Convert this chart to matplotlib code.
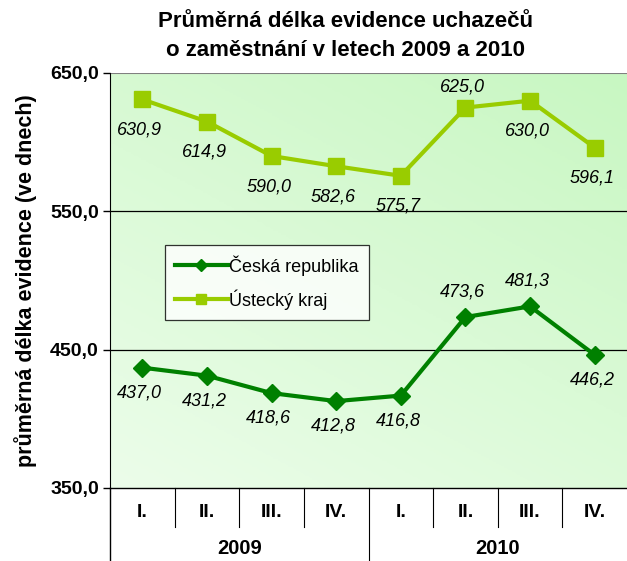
import matplotlib
matplotlib.use("Agg")
from matplotlib import pyplot as plt
from matplotlib import transforms
from matplotlib.colors import LinearSegmentedColormap
import numpy as np

plt.rcParams['font.family'] = ['Liberation Sans', 'DejaVu Sans']

# data
quarters = ['I.', 'II.', 'III.', 'IV.', 'I.', 'II.', 'III.', 'IV.']
years = ['2009', '2010']
cr = [437.0, 431.2, 418.6, 412.8, 416.8, 473.6, 481.3, 446.2]
ustecky = [630.9, 614.9, 590.0, 582.6, 575.7, 625.0, 630.0, 596.1]
cr_above = [False, False, False, False, False, True, True, False]
us_above = [False, False, False, False, False, True, False, False]
yticks = [350, 450, 550, 650]

fig = plt.figure(figsize=(6.27, 5.61), dpi=100)
W, H = 627, 561
ax = fig.add_axes([110 / W, (H - 488) / H, 517 / W, 415 / H])

x = np.arange(len(quarters))
ax.set_xlim(-0.5, len(quarters) - 0.5)
ax.set_ylim(350, 650)

# gradient background
g = np.linspace(0, 1, 200)
gx, gy = np.meshgrid(g, g)
grad = 0.6 * gy + 0.4 * gx
cmap = LinearSegmentedColormap.from_list('bg', ['#ecfdea', '#c8f7c2'])
ax.imshow(grad, cmap=cmap, extent=[-0.5, 7.5, 350, 650], origin='lower',
          aspect='auto', zorder=0)

for yv in yticks[1:3]:
    ax.axhline(yv, color='black', lw=0.9, zorder=1)
ax.axhline(650, color='#808080', lw=1.5, zorder=1)

# lines
ax.plot(x, cr, color='#008000', lw=3, marker='D', ms=9, zorder=3,
        label='Česká republika')
ax.plot(x, ustecky, color='#99cc00', lw=3, marker='s', ms=11, zorder=3,
        label='Ústecký kraj')

for xi, v, up in zip(x, cr, cr_above):
    ax.annotate(f'{v:.1f}'.replace('.', ','), (xi, v),
                xytext=(-2, 18 if up else -18), textcoords='offset points',
                ha='center', va='center', style='italic', fontsize=13)
for xi, v, up in zip(x, ustecky, us_above):
    ax.annotate(f'{v:.1f}'.replace('.', ','), (xi, v),
                xytext=(-2, 15 if up else -22), textcoords='offset points',
                ha='center', va='center', style='italic', fontsize=13)

# axes styling
for s in ['top', 'right', 'bottom']:
    ax.spines[s].set_visible(False)
ax.spines['left'].set_bounds(350, 650)
ax.set_yticks(yticks)
ax.set_yticklabels([f'{v:.1f}'.replace('.', ',') for v in yticks],
                   fontweight='bold', fontsize=14)
ax.tick_params(axis='y', length=5, width=1, pad=3)
ax.set_xticks([])

# category axis
tr = transforms.blended_transform_factory(ax.transData, ax.transAxes)
ax.plot([-0.5, 7.5], [0, 0], color='black', lw=1, transform=tr, clip_on=False)
ax.plot([-0.5, -0.5], [0, -0.176], color='black', lw=1, transform=tr, clip_on=False)
for i in range(1, len(quarters)):
    bottom = -0.176 if i == 4 else -0.094
    ax.plot([i - 0.5, i - 0.5], [0, bottom], color='black', lw=0.8,
            transform=tr, clip_on=False)
for xi, q in zip(x, quarters):
    ax.text(xi, -0.058, q, transform=tr, ha='center', va='center',
            fontweight='bold', fontsize=14)
for i, yr in enumerate(years):
    ax.text(1.5 + 4 * i, -0.145, yr, transform=tr, ha='center', va='center',
            fontweight='bold', fontsize=14.5)

ax.set_ylabel('průměrná délka evidence (ve dnech)', fontweight='bold',
              fontsize=15.5)
ax.yaxis.set_label_coords(-0.141, 0.5)

fig.text(345 / W, 1 - 36 / H, 'Průměrná délka evidence uchazečů\no zaměstnání v letech 2009 a 2010',
         ha='center', va='center', fontweight='bold', fontsize=16,
         linespacing=1.45)

leg = ax.legend(loc='upper left', bbox_to_anchor=(0.107, 0.585),
                borderaxespad=0, fontsize=13, frameon=True, fancybox=False,
                edgecolor='black', handlelength=2.9, borderpad=0.55,
                labelspacing=0.75, handletextpad=0.1, markerscale=0.7)
leg.get_frame().set_linewidth(0.9)

fig.savefig('out.png', dpi=100)
